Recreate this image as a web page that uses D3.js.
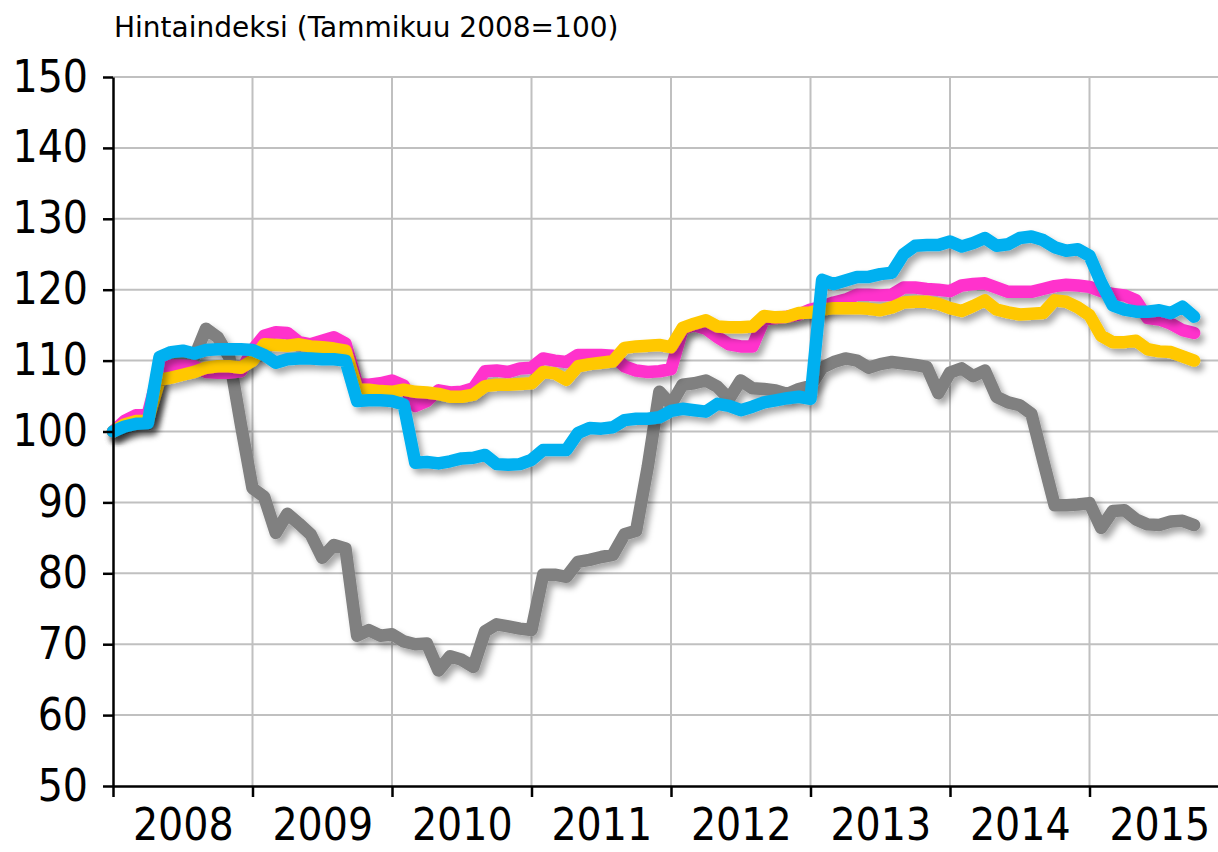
<!DOCTYPE html>
<html>
<head>
<meta charset="utf-8">
<script src="https://cdn.jsdelivr.net/npm/d3@7"></script>
<style>
  body { margin: 0; background: white; }
  text { font-family: "DejaVu Sans Condensed", "DejaVu Sans", sans-serif; font-stretch: condensed; fill: #000; }
  .title { font-family: "DejaVu Sans", sans-serif; font-stretch: normal; }
  .grid line { stroke: #c0c0c0; stroke-width: 2; }
  .axis path, .axis line { stroke: #000; stroke-width: 2.5; }
  .series { fill: none; stroke-width: 12.5; stroke-linejoin: round; stroke-linecap: round; }
</style>
</head>
<body>
<div id="chart"></div>
<script>
// Monthly price index, Jan 2008 .. Oct 2015 (Tammikuu 2008 = 100)
const startYear = 2008;
const years = ["2008", "2009", "2010", "2011", "2012", "2013", "2014", "2015"];
const yTicks = [50, 60, 70, 80, 90, 100, 110, 120, 130, 140, 150];

const seriesGrey = [
  100, 100.5, 101, 101, 109.3, 109.6, 109.8, 110.5, 114.5, 113.3, 110.5, 101,
  92, 90.8, 85.7, 88.4, 87, 85.5, 82.2, 84, 83.5, 71.2, 72, 71.2,
  71.4, 70.4, 70, 70.1, 66.3, 68.3, 67.8, 66.8, 71.8, 72.8, 72.5, 72.2,
  72, 79.8, 79.8, 79.5, 81.6, 81.9, 82.3, 82.6, 85.5, 86, 95, 105.6,
  103.8, 106.6, 106.8, 107.2, 106.3, 104.6, 107.2, 106.1, 106, 105.8, 105.3, 106,
  106.4, 109, 109.8, 110.3, 110, 109, 109.5, 109.8, 109.6, 109.4, 109.1, 105.4,
  108.3, 108.9, 107.8, 108.6, 104.9, 104.1, 103.7, 102.5, 96, 89.6, 89.6, 89.7,
  89.9, 86.4, 88.8, 88.9, 87.6, 86.9, 86.8, 87.3, 87.4, 86.8
];
const seriesPink = [
  100, 101.5, 102.3, 102.5, 108.8, 109.3, 109.3, 109.2, 108.4, 108.3, 108.3, 108.5,
  111.5, 113.5, 114, 113.9, 112.6, 112.3, 112.8, 113.3, 112.4, 106.7, 106.6, 106.8,
  107.2, 106.5, 103.6, 104.3, 105.8, 105.5, 105.6, 106.1, 108.5, 108.6, 108.4, 108.9,
  109, 110.3, 110, 109.8, 110.8, 110.8, 110.8, 110.7, 109.2, 108.6, 108.4, 108.5,
  108.8, 114.5, 115, 114.5, 113.3, 112.3, 112, 112, 115.8, 116, 116.2, 116.5,
  117.2, 117.6, 118.2, 118.6, 119.3, 119.3, 119.2, 119.3, 120.3, 120.3, 120.1, 120,
  119.8, 120.6, 120.8, 120.9, 120.3, 119.7, 119.7, 119.7, 120.1, 120.5, 120.7, 120.6,
  120.4, 119.8, 119.4, 119.2, 118.5, 116, 115.8, 115.2, 114.3, 113.9
];
const seriesYellow = [
  100, 101, 101.5, 101.6, 107.3, 107.6, 108, 108.4, 109, 109.2, 109.2, 109,
  110, 112.3, 112.2, 112.1, 112.3, 112, 111.9, 111.7, 111.4, 106, 105.9, 105.7,
  105.6, 105.9, 105.6, 105.5, 105.3, 104.9, 104.9, 105.2, 106.4, 106.6, 106.6, 106.7,
  106.8, 108.4, 108.2, 107.3, 109.2, 109.5, 109.7, 109.9, 111.8, 112, 112.1, 112.2,
  111.9, 114.6, 115.2, 115.7, 114.8, 114.7, 114.7, 114.8, 116.3, 116.1, 116.2, 116.7,
  116.8, 117.2, 117.4, 117.4, 117.4, 117.3, 117.1, 117.5, 118.2, 118.3, 118.3, 118,
  117.4, 117, 117.7, 118.5, 117.2, 116.8, 116.5, 116.6, 116.7, 118.5, 118.3, 117.5,
  116.4, 113.5, 112.6, 112.6, 112.8, 111.6, 111.3, 111.2, 110.6, 110
];
const seriesBlue = [
  100, 100.7, 101.1, 101.2, 110.5, 111.2, 111.4, 111, 111.5, 111.6, 111.6, 111.6,
  111.5, 110.8, 109.7, 110.2, 110.3, 110.3, 110.2, 110.2, 110, 104.3, 104.4, 104.4,
  104.3, 103.8, 95.6, 95.7, 95.5, 95.8, 96.2, 96.3, 96.7, 95.4, 95.3, 95.4,
  96, 97.4, 97.4, 97.4, 99.8, 100.5, 100.4, 100.6, 101.6, 101.8, 101.8, 102,
  102.9, 103.2, 103, 102.8, 103.9, 103.6, 103, 103.5, 104.1, 104.4, 104.7, 104.9,
  104.6, 121.4, 120.8, 121.3, 121.8, 121.8, 122.2, 122.4, 125, 126.2, 126.3, 126.3,
  126.8, 126.1, 126.6, 127.3, 126.2, 126.4, 127.3, 127.5, 127, 126, 125.5, 125.7,
  124.8, 121, 117.8, 117.2, 116.9, 116.9, 117.1, 116.7, 117.6, 116.2
];

const seriesColors = ["#808080", "#ff33cc", "#ffc800", "#00b0f0"];

function plotChart(){
  let svg = d3.select("#chart").append("svg")
    .attr("width", 1218)
    .attr("height", 852);

  svg.append("rect")
    .attr("width", "100%")
    .attr("height", "100%")
    .attr("fill", "white");

  // drop shadow under each line
  let defs = svg.append("defs");
  defs.append("filter")
    .attr("id", "shadow")
    .attr("x", "-10%").attr("y", "-10%")
    .attr("width", "120%").attr("height", "120%")
    .append("feDropShadow")
      .attr("dx", 4)
      .attr("dy", 5)
      .attr("stdDeviation", 3)
      .attr("flood-color", "#000")
      .attr("flood-opacity", 0.35);

  let margin = {top: 77, left: 113, bottom: 66, right: 0};
  let height = 852 - margin.top - margin.bottom;
  let monthW = 139.5 / 12;

  let x = d3.scaleLinear().domain([0, years.length * 12]).range([margin.left, margin.left + years.length * 12 * monthW]);
  let y = d3.scaleLinear().domain([50, 150]).range([margin.top + height, margin.top]);

  // Grid lines
  svg.append("g")
    .attr("class", "grid")
    .selectAll("line.h")
    .data(yTicks.slice(1))
    .enter().append("line")
      .attr("x1", margin.left)
      .attr("x2", 1218)
      .attr("y1", (d) => y(d))
      .attr("y2", (d) => y(d));

  svg.append("g")
    .attr("class", "grid")
    .selectAll("line.v")
    .data(years.slice(1).map((d, i) => (i + 1) * 12))
    .enter().append("line")
      .attr("x1", (d) => x(d))
      .attr("x2", (d) => x(d))
      .attr("y1", y(150))
      .attr("y2", y(50));

  // Series lines, grey first, blue on top
  let line = d3.line()
    .x((d, i) => x(i))
    .y((d) => y(d));

  [seriesGrey, seriesPink, seriesYellow, seriesBlue].forEach((s, k) => {
    svg.append("path")
      .datum(s)
      .attr("class", "series")
      .attr("stroke", seriesColors[k])
      .attr("filter", "url(#shadow)")
      .attr("d", line);
  });

  // Y axis
  svg.append("g")
    .attr("class", "axis axis--y")
    .attr("transform", "translate(" + margin.left + ",0)")
    .call(d3.axisLeft(y).tickValues(yTicks).tickSize(10).tickSizeOuter(0).tickPadding(15))
    .selectAll("text")
      .style("font-size", "44px");

  // X axis tick marks at year boundaries
  svg.append("g")
    .attr("class", "axis axis--x")
    .attr("transform", "translate(0," + y(50) + ")")
    .call(d3.axisBottom(x).tickValues(years.map((d, i) => i * 12)).tickSize(11).tickSizeOuter(0).tickFormat(""));

  // Year labels centred in each year
  let xl = svg.append("g")
    .attr("transform", "translate(0," + y(50) + ")")
    .call(d3.axisBottom(x).tickValues(years.map((d, i) => i * 12 + 6)).tickSize(0).tickPadding(23)
      .tickFormat((d) => years[(d - 6) / 12]));
  xl.select(".domain").remove();
  xl.selectAll("text").style("font-size", "44px");

  // Title
  svg.append("text")
    .attr("class", "title")
    .attr("x", 114)
    .attr("y", 37)
    .style("font-size", "28px")
    .text("Hintaindeksi (Tammikuu " + startYear + "=100)");
}

plotChart();
</script>
</body>
</html>
